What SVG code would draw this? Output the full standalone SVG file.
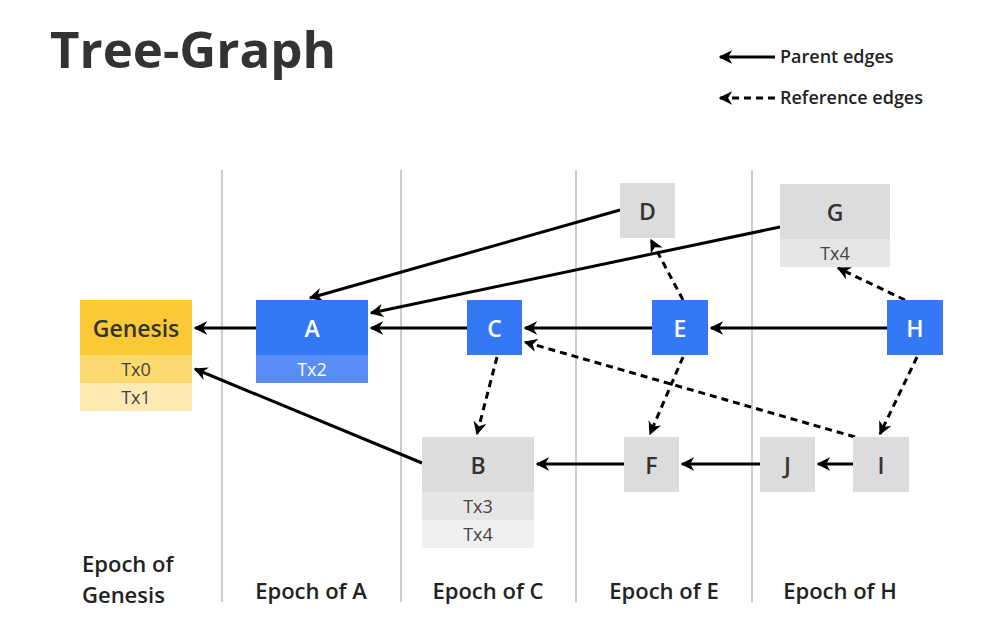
<svg xmlns="http://www.w3.org/2000/svg" width="1000" height="642" viewBox="0 0 1000 642">
<style>
text{font-family:"Open Sans","Liberation Sans",sans-serif;text-anchor:middle;dominant-baseline:central}
.h{font-size:23px;font-weight:600;fill:#333}
.hw{font-size:23px;font-weight:600;fill:#fff}
.t{font-size:18px;fill:#444}
.tw{font-size:18px;fill:#fff}
.ep{font-size:22px;font-weight:600;fill:#222}
.lg{font-size:18px;font-weight:600;fill:#222;text-anchor:start}
.e{stroke:#000;stroke-width:3;fill:none;marker-end:url(#ah)}
.d{stroke-dasharray:7 5}
.sep{stroke:#aaa;stroke-width:1.2}
.blue{fill:#3478F6}.grey{fill:#dcdcdc}.grey2{fill:#e6e6e6}.grey3{fill:#efefef}
</style>
<defs><marker id="ah" viewBox="0 0 10 10" refX="9" refY="5" markerWidth="4.5" markerHeight="4.5" orient="auto"><path d="M0,0 L10,5 L0,10 L3,5 Z" fill="#000"/></marker></defs>
<rect width="1000" height="642" fill="#fff"/>
<text x="50" y="48" style="font-size:51px;font-weight:700;fill:#333;text-anchor:start">Tree-Graph</text>
<g id="legend">
<line x1="775" y1="57" x2="720" y2="57" class="e"/>
<text x="780" y="56" class="lg">Parent edges</text>
<line x1="775" y1="98" x2="720" y2="98" class="e d"/>
<text x="780" y="97" class="lg">Reference edges</text>
</g>
<g id="separators">
<line x1="222" y1="170" x2="222" y2="602" class="sep"/>
<line x1="401" y1="170" x2="401" y2="602" class="sep"/>
<line x1="576" y1="170" x2="576" y2="602" class="sep"/>
<line x1="752" y1="170" x2="752" y2="602" class="sep"/>
</g>
<g id="epochs">
<text x="82" y="563" class="ep" style="text-anchor:start">Epoch of</text>
<text x="82" y="594" class="ep" style="text-anchor:start">Genesis</text>
<text x="311" y="590" class="ep">Epoch of A</text>
<text x="488" y="590" class="ep">Epoch of C</text>
<text x="664" y="590" class="ep">Epoch of E</text>
<text x="840" y="590" class="ep">Epoch of H</text>
</g>
<g id="connectors">
<line x1="256" y1="328" x2="195" y2="328" class="e"/>
<line x1="467" y1="328" x2="371" y2="328" class="e"/>
<line x1="652" y1="328" x2="525" y2="328" class="e"/>
<line x1="887" y1="328" x2="711" y2="328" class="e"/>
<line x1="620" y1="210" x2="310" y2="298" class="e"/>
<line x1="780" y1="227" x2="371" y2="313" class="e"/>
<line x1="422" y1="463" x2="195" y2="369" class="e"/>
<line x1="624" y1="464" x2="537" y2="464" class="e"/>
<line x1="760" y1="464" x2="682" y2="464" class="e"/>
<line x1="853" y1="464" x2="818" y2="464" class="e"/>
<line x1="497" y1="357" x2="477" y2="434" class="e d"/>
<line x1="683" y1="300" x2="651" y2="240" class="e d"/>
<line x1="683" y1="357" x2="650" y2="434" class="e d"/>
<line x1="905" y1="300" x2="838" y2="268" class="e d"/>
<line x1="917" y1="357" x2="880" y2="434" class="e d"/>
<line x1="855" y1="437" x2="525" y2="342" class="e d"/>
</g>
<g id="genesis">
<rect x="80" y="300" width="112" height="55" fill="#FBC935"/>
<rect x="80" y="355" width="112" height="28" fill="#FCD970"/>
<rect x="80" y="383" width="112" height="28" fill="#FDEAB3"/>
<text x="136" y="328" class="h">Genesis</text>
<text x="136" y="369" class="t">Tx0</text>
<text x="136" y="397" class="t">Tx1</text>
</g>
<g id="A">
<rect x="256" y="300" width="112" height="55" class="blue"/>
<rect x="256" y="355" width="112" height="28" fill="#5A8EF7"/>
<text x="312" y="328" class="hw">A</text>
<text x="312" y="369" class="tw">Tx2</text>
</g>
<g id="C"><rect x="467" y="300" width="55" height="55" class="blue"/><text x="494.5" y="328" class="hw">C</text></g>
<g id="E"><rect x="652" y="300" width="56" height="55" class="blue"/><text x="680" y="328" class="hw">E</text></g>
<g id="H"><rect x="887" y="300" width="56" height="55" class="blue"/><text x="915" y="328" class="hw">H</text></g>
<g id="D"><rect x="620" y="183" width="55" height="55" class="grey"/><text x="647.5" y="211" class="h">D</text></g>
<g id="G">
<rect x="780" y="184" width="110" height="55" class="grey"/>
<rect x="780" y="239" width="110" height="28" class="grey2"/>
<text x="835" y="212" class="h">G</text>
<text x="835" y="253" class="t">Tx4</text>
</g>
<g id="B">
<rect x="422" y="437" width="112" height="55" class="grey"/>
<rect x="422" y="492" width="112" height="28" class="grey2"/>
<rect x="422" y="520" width="112" height="28" class="grey3"/>
<text x="478" y="465" class="h">B</text>
<text x="478" y="506" class="t">Tx3</text>
<text x="478" y="534" class="t">Tx4</text>
</g>
<g id="F"><rect x="624" y="437" width="55" height="55" class="grey"/><text x="651.5" y="465" class="h">F</text></g>
<g id="J"><rect x="760" y="437" width="55" height="55" class="grey"/><text x="787.5" y="465" class="h">J</text></g>
<g id="I"><rect x="853" y="437" width="56" height="55" class="grey"/><text x="881" y="465" class="h">I</text></g>
</svg>
